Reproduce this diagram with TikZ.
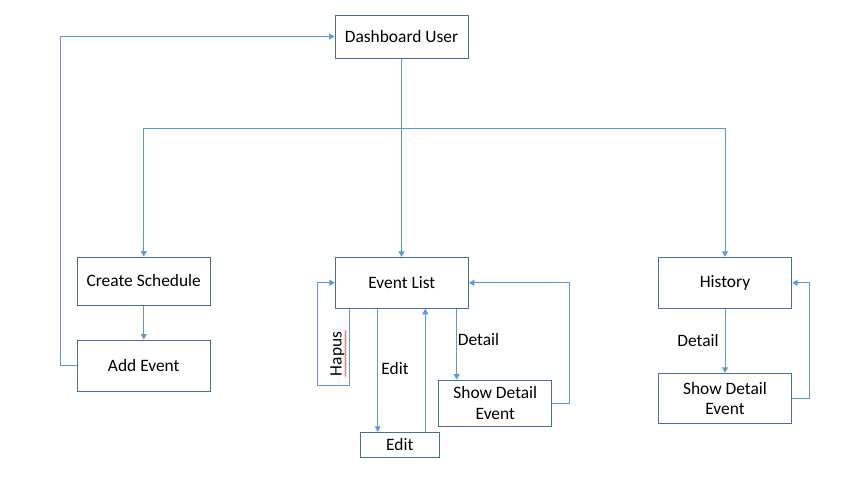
\documentclass[tikz,border=0pt]{standalone}
\usepackage{fontspec}
\setmainfont{Carlito}
\usetikzlibrary{arrows.meta,calc,decorations.pathmorphing}
\definecolor{boxc}{RGB}{65,113,156}
\definecolor{linec}{RGB}{91,155,213}
\tikzset{
  box/.style={draw=boxc,line width=1pt,inner sep=0pt,align=center,text=black,
    font=\fontsize{17.4}{20.5}\selectfont},
  conn/.style={draw=linec,line width=1pt},
  arr/.style={conn,-{Triangle[length=5.5pt,width=6pt]}},
  lbl/.style={font=\fontsize{17.4}{20.5}\selectfont,text=black,inner sep=0pt}
}
\begin{document}
\begin{tikzpicture}[x=1pt,y=-1pt]
\useasboundingbox[fill=white] (0,0) rectangle (864,480);
% nodes
\node[box,minimum width=133pt,minimum height=43pt] (dash) at (401.5,36.5) {Dashboard User};
\node[box,minimum width=133.5pt,minimum height=48pt] (cs) at (143.75,281) {Create Schedule};
\node[box,minimum width=133.5pt,minimum height=51pt] (ae) at (143.75,365.5) {Add Event};
\node[box,minimum width=133pt,minimum height=51pt] (el) at (401.8,282.8) {Event List};
\node[box,minimum width=133.4pt,minimum height=51pt] (hist) at (725,282.8) {History};
\node[box,minimum width=79pt,minimum height=25pt] (edit) at (399.8,444.8) {Edit};
\node[box,minimum width=112.7pt,minimum height=46pt] (sd1) at (495.3,403) {Show Detail\\Event};
\node[box,minimum width=133.4pt,minimum height=50pt] (sd2) at (725,398.3) {Show Detail\\Event};
% helper coordinates
\coordinate (j) at (402,128);
\coordinate (lx) at (60,200);
\coordinate (hb) at (317.3,385);
\coordinate (r1) at (569.3,340);
\coordinate (r2) at (809.3,340);
% connectors
\draw[arr] (dash.south) -- (dash.south |- el.north);
\draw[conn] (j -| cs.north) -- (j -| hist.north);
\draw[arr] (j -| cs.north) -- (cs.north);
\draw[arr] (j -| hist.north) -- (hist.north);
\draw[arr] (cs.south) -- (ae.north);
\draw[arr] (ae.west) -- (ae.west -| lx) |- (dash.west);
\draw[arr] ([xshift=15pt]el.south west) |- (hb) |- (el.west);
\draw[arr] ([xshift=-24.1pt]el.south) -- ([xshift=-24.1pt]el.south |- edit.north);
\draw[arr] ([xshift=23.5pt]el.south |- edit.north) -- ([xshift=23.5pt]el.south);
\draw[arr] ([xshift=54.9pt]el.south) -- ([xshift=54.9pt]el.south |- sd1.north);
\draw[arr] (sd1.east) -- (sd1.east -| r1) |- (el.east);
\draw[arr] (hist.south) -- (sd2.north);
\draw[arr] (sd2.east) -- (sd2.east -| r2) |- (hist.east);
% labels
\node[lbl,rotate=90] (hapus) at (337.5,354) {Hapus};
\draw[red!80,line width=0.5pt,decorate,decoration={snake,segment length=3pt,amplitude=0.7pt}] (345.5,330) -- (345.5,377);
\node[lbl] (ledit) at (395,369) {Edit};
\node[lbl] (ldet1) at (478.5,339.5) {Detail};
\node[lbl] (ldet2) at (698,340.5) {Detail};
\end{tikzpicture}
\end{document}
